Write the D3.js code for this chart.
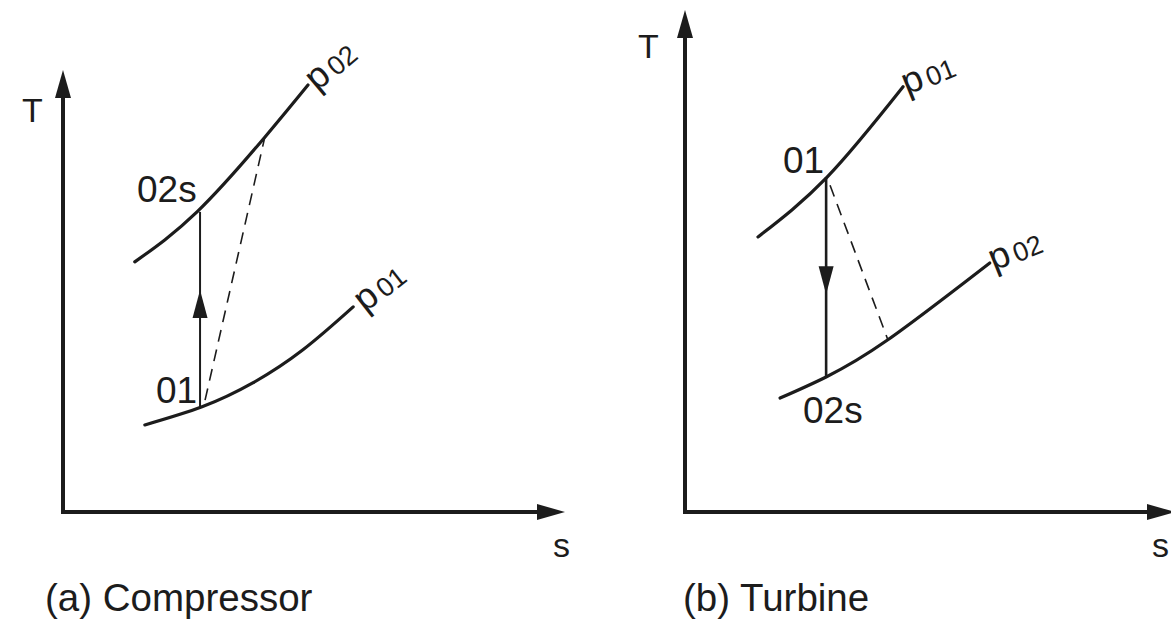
<!DOCTYPE html>
<html><head><meta charset="utf-8">
<script src="https://cdn.jsdelivr.net/npm/d3@7"></script>
<style>
html,body{margin:0;padding:0;background:#fff;}
svg{display:block;font-family:"Liberation Sans",Arial,Helvetica,sans-serif;}
</style></head>
<body>
<svg id="c" width="1171" height="619"></svg>
<script>
// ---- data (s, T in arbitrary units 0..100 of each panel's axes) ----
const panelTitles = ["(a) Compressor", "(b) Turbine"];
const axisLabels = ["T", "s"];
// compressor
const compLowP01 = [[16.3,19.7],[27.7,23.8],[37.8,29.2],[47.8,36.7],[57.8,46.4]];
const compHighP02 = [[14.3,56.6],[26.7,67.9],[40.2,84.8],[48.8,96.6]];
const compIsentropic = [[27.3,23.8],[27.3,67.9]];
const compActual = [[28.3,25.3],[40.2,84.8]];
const compArrowT = 50.2;
// turbine
const turbHighP01 = [[14.9,54.8],[29.0,66.7],[44.5,84.7]];
const turbLowP02 = [[19.4,22.7],[28.8,26.9],[41.4,34.3],[62.2,49.6]];
const turbIsentropic = [[28.8,66.7],[28.8,26.9]];
const turbActual = [[29.6,65.1],[41.4,34.3]];
const turbArrowT = 43.4;

const svg = d3.select("#c");
const ink = "#1c1c1c";

function panel(cfg){
  const x = d3.scaleLinear().domain([0,100]).range(cfg.xr);
  const y = d3.scaleLinear().domain([0,100]).range(cfg.yr);
  const g = svg.append("g");
  const line = d3.line().x(d=>x(d[0])).y(d=>y(d[1])).curve(d3.curveNatural);
  const straight = d3.line().x(d=>x(d[0])).y(d=>y(d[1]));
  // axes
  g.append("line").attr("x1",x(0)).attr("x2",x(0)).attr("y1",y(0)+2).attr("y2",y(100)+20)
    .attr("stroke",ink).attr("stroke-width",4);
  g.append("line").attr("x1",x(0)-2).attr("x2",x(100)-18).attr("y1",y(0)).attr("y2",y(0))
    .attr("stroke",ink).attr("stroke-width",4);
  g.append("path").attr("d",`M${x(0)},${y(100)} L${x(0)-8},${y(100)+28} L${x(0)+8},${y(100)+28}Z`).attr("fill",ink);
  g.append("path").attr("d",`M${x(100)},${y(0)} L${x(100)-28},${y(0)-8} L${x(100)-28},${y(0)+8}Z`).attr("fill",ink);
  g.append("text").attr("x",cfg.tPos[0]).attr("y",cfg.tPos[1]).attr("font-size",34).attr("fill",ink).text(axisLabels[0]);
  g.append("text").attr("x",cfg.sPos[0]).attr("y",cfg.sPos[1]).attr("font-size",34).attr("fill",ink).text(axisLabels[1]);
  g.append("text").attr("x",cfg.titlePos[0]).attr("y",cfg.titlePos[1]).attr("font-size",38.5).attr("fill",ink).text(cfg.title);
  // curves
  cfg.curves.forEach(c=>{
    g.append("path").attr("d",line(c)).attr("fill","none").attr("stroke",ink).attr("stroke-width",3.2).attr("stroke-linecap","round");
  });
  g.append("path").attr("d",straight(cfg.iso)).attr("fill","none").attr("stroke",ink).attr("stroke-width",cfg.isoW);
  g.append("path").attr("d",straight(cfg.act)).attr("fill","none").attr("stroke",ink).attr("stroke-width",1.6).attr("stroke-dasharray","12,8");
  // direction arrow
  const ax = x(cfg.iso[0][0]), ay = y(cfg.arrowT), dir = cfg.up ? 1 : -1;
  g.append("path").attr("d",`M${ax},${ay} L${ax-7.5},${ay+dir*28} L${ax+7.5},${ay+dir*28}Z`).attr("fill",ink);
  // point labels
  cfg.pts.forEach(p=>{
    g.append("text").attr("x",p[1]).attr("y",p[2]).attr("font-size",37).attr("fill",ink).text(p[0]);
  });
  // pressure labels
  cfg.plabels.forEach(p=>{
    const t = g.append("text").attr("transform",`translate(${p[1]},${p[2]}) rotate(${p[3]})`).attr("fill",ink).attr("font-size",37);
    t.append("tspan").text("p");
    t.append("tspan").attr("font-size",27).attr("dx",4).attr("dy",1).text(p[0]);
  });
}

panel({xr:[63,565], yr:[512,70], title:panelTitles[0], tPos:[22,122], sPos:[553,557], titlePos:[45,611],
  curves:[compLowP01, compHighP02], iso:compIsentropic, isoW:2, act:compActual, arrowT:compArrowT, up:true,
  pts:[["02s",137,202],["01",156,403]],
  plabels:[["02",317,92,-40],["01",365,313,-38]]});

panel({xr:[685,1175], yr:[512,10], title:panelTitles[1], tPos:[638,58], sPos:[1152,557], titlePos:[683,611],
  curves:[turbHighP01, turbLowP02], iso:turbIsentropic, isoW:2.6, act:turbActual, arrowT:turbArrowT, up:false,
  pts:[["01",783,173],["02s",803,423]],
  plabels:[["01",907,95,-22],["02",994,271,-22]]});
</script>
</body></html>
